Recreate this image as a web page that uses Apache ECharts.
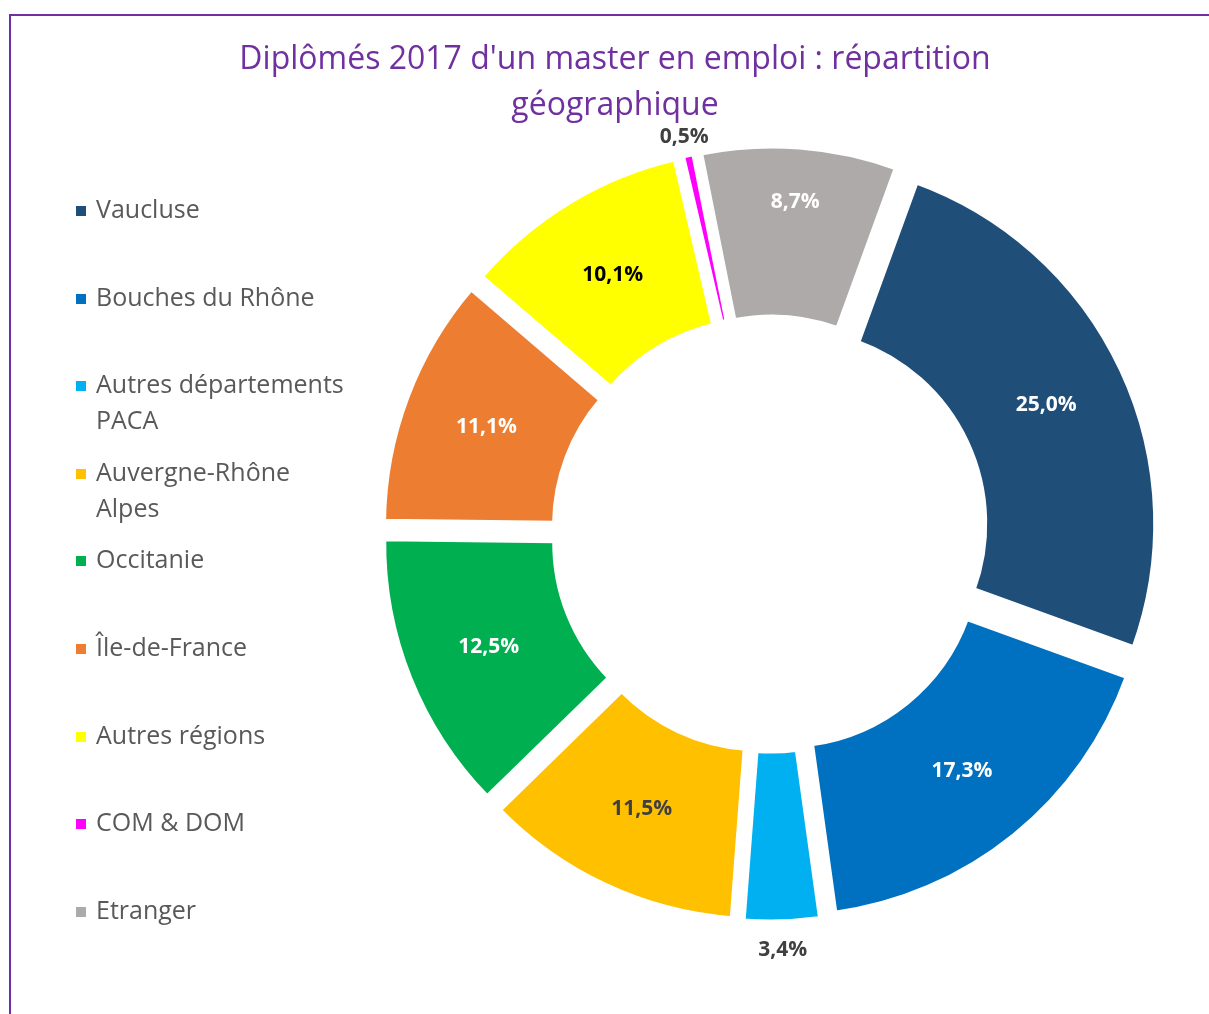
<!DOCTYPE html>
<html>
<head>
<meta charset="utf-8">
<script src="https://cdn.jsdelivr.net/npm/echarts@6/dist/echarts.min.js"></script>
<style>
html,body{margin:0;padding:0;background:#fff;overflow:hidden;}
#frame{position:absolute;left:9px;top:14px;width:1400px;height:1200px;border:2px solid #7030A0;}
#main{position:absolute;left:0;top:0;width:1209px;height:1014px;}
</style>
</head>
<body>
<div id="frame"></div>
<div id="main"></div>
<script>
// données
var categories = ['Vaucluse', 'Bouches du Rhône', 'Autres départements\nPACA', 'Auvergne-Rhône\nAlpes',
  'Occitanie', 'Île-de-France', 'Autres régions', 'COM & DOM', 'Etranger'];
var percents = [25.0, 17.3, 3.4, 11.5, 12.5, 11.1, 10.1, 0.5, 8.7];

// styles
var colors = ['#1F4E79', '#0070C0', '#00B0F0', '#FFC000', '#00B050', '#ED7D31', '#FFFF00', '#FF00FF', '#AEAAAA'];
var labelColors = ['#fff', '#fff', '#404040', '#404040', '#fff', '#fff', '#000', '#404040', '#fff'];
var labelDist = [305, 305, 416, 303, 303, 303, 303, 406, 333]; // distance étiquette / centre (px)
var legendY = [211, 299, 386, 474, 561, 649, 737, 824, 912];

var CX = 770, CY = 534, START = 70;
var myChart = echarts.init(document.getElementById('main'));

var total = percents.reduce(function (a, b) { return a + b; }, 0);

var pieData = categories.map(function (name, i) {
  return {
    name: name,
    value: percents[i],
    selected: true,
    itemStyle: { color: colors[i] }
  };
});

// étiquettes : placées en coordonnées polaires (rayon, valeur cumulée au milieu de la part)
var cum = 0;
var labelData = percents.map(function (v, i) {
  var item = {
    value: [labelDist[i], cum + v / 2],
    label: { color: labelColors[i] }
  };
  cum += v;
  return item;
});

var legends = categories.map(function (name, i) {
  var twoLines = name.indexOf('\n') >= 0;
  return {
    data: [name],
    orient: 'vertical',
    left: 74,
    top: twoLines ? legendY[i] - 54 : legendY[i] - 18,
    padding: 0,
    icon: 'rect',
    itemWidth: 12,
    itemHeight: 12,
    selectedMode: false,
    // ligne vide en tête : l'icône reste en face de la première ligne
    formatter: function (n) { return twoLines ? '\n' + n : n; },
    textStyle: {
      fontFamily: 'Open Sans',
      fontSize: 25,
      color: '#595959',
      lineHeight: 36,
      padding: [0, 0, 0, 4]
    }
  };
});

myChart.setOption({
  animation: false,
  title: {
    text: "Diplômés 2017 d'un master en emploi : répartition\ngéographique",
    left: 615,
    top: 37,
    padding: 0,
    textAlign: 'center',
    textStyle: {
      fontFamily: 'Open Sans',
      fontSize: 32,
      fontWeight: 'normal',
      color: '#7030A0',
      lineHeight: 46
    }
  },
  legend: legends,
  polar: { center: [CX, CY], radius: [0, 500] },
  angleAxis: { type: 'value', min: 0, max: total, startAngle: START, clockwise: true, show: false },
  radiusAxis: { type: 'value', min: 0, max: 500, show: false },
  series: [{
    type: 'pie',
    center: [CX, CY],
    radius: [193, 364],
    startAngle: START,
    clockwise: true,
    selectedMode: 'multiple',
    selectedOffset: 24,
    itemStyle: { borderColor: '#fff', borderWidth: 5 },
    label: { show: false },
    labelLine: { show: false },
    emphasis: { disabled: true },
    select: {
      itemStyle: { borderColor: '#fff', borderWidth: 5 },
      label: { show: false }
    },
    data: pieData
  }, {
    type: 'scatter',
    coordinateSystem: 'polar',
    symbolSize: 1,
    itemStyle: { color: 'rgba(0,0,0,0)', opacity: 1 },
    silent: true,
    label: {
      show: true,
      position: 'inside',
      opacity: 1,
      fontFamily: 'Open Sans',
      fontWeight: 'bold',
      fontSize: 21,
      formatter: function (p) {
        return percents[p.dataIndex].toFixed(1).replace('.', ',') + '%';
      }
    },
    data: labelData
  }]
});
</script>
</body>
</html>
